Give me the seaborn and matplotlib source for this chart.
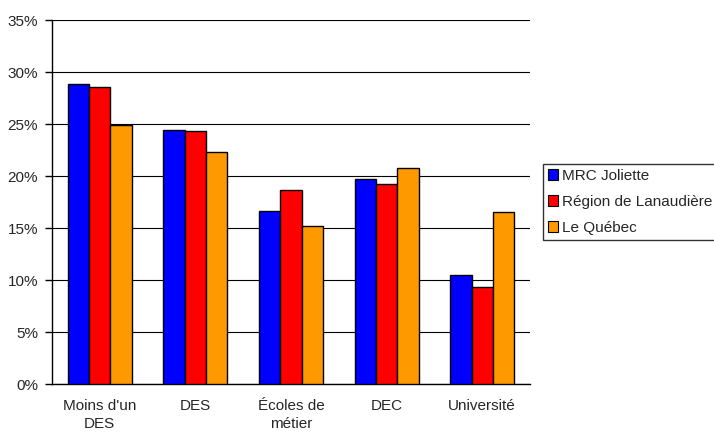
import matplotlib
matplotlib.use("Agg")
import matplotlib.pyplot as plt
import seaborn as sns
import pandas as pd
from matplotlib.ticker import FixedLocator, PercentFormatter

categories = ["Moins d'un\nDES", "DES", "Écoles de\nmétier", "DEC", "Université"]
series = ["MRC Joliette", "Région de Lanaudière", "Le Québec"]
mrc_joliette = [28.8, 24.4, 16.6, 19.7, 10.5]
region_lanaudiere = [28.6, 24.3, 18.7, 19.2, 9.3]
le_quebec = [24.9, 22.3, 15.2, 20.8, 16.5]
colors = ["#0000FF", "#FF0000", "#FF9900"]

rows = []
for s, vals in zip(series, [mrc_joliette, region_lanaudiere, le_quebec]):
    for c, v in zip(categories, vals):
        rows.append({"cat": c, "series": s, "val": v})
df = pd.DataFrame(rows)

sns.set_style("white")
plt.rcParams['font.family'] = ['Liberation Sans', 'DejaVu Sans']

fig = plt.figure(figsize=(7.14, 4.32), dpi=100)
ax = fig.add_axes([52/714, 48/432, 478/714, 364/432])

sns.barplot(data=df, x="cat", y="val", hue="series", palette=colors, saturation=1,
            width=0.67, edgecolor="black", linewidth=1.0, ax=ax, zorder=3)

ax.set_ylim(0, 35)
ax.set_xlim(-0.5, len(categories) - 0.5)
ax.set_yticks(range(0, 36, 5))
ax.yaxis.set_major_formatter(PercentFormatter(decimals=0))
ax.yaxis.grid(True, color="black", linewidth=0.8, zorder=0)
ax.set_axisbelow(True)
ax.set_xlabel("")
ax.set_ylabel("")

for side in ["top", "right"]:
    ax.spines[side].set_visible(False)
for side in ["left", "bottom"]:
    ax.spines[side].set_color("black")
    ax.spines[side].set_linewidth(1.0)

ax.tick_params(axis="x", which="major", length=0, labelsize=11, pad=11)
ax.xaxis.set_minor_locator(FixedLocator([i - 0.5 for i in range(len(categories) + 1)]))
ax.tick_params(axis="x", which="minor", length=5, width=1, color="black", direction="out")
ax.tick_params(axis="y", which="major", length=5, width=1, color="black", direction="out",
               labelsize=11, left=True, pad=5)
for lbl in ax.get_xticklabels():
    lbl.set_linespacing(1.3)

leg = ax.legend(loc="upper left", bbox_to_anchor=(543/714, 1 - 164/432),
                bbox_transform=fig.transFigure, frameon=True, fontsize=11,
                handlelength=0.7, handleheight=0.7, handletextpad=0.25,
                borderpad=0.3, labelspacing=0.8, fancybox=False, borderaxespad=0)
leg.get_frame().set_edgecolor("black")
leg.get_frame().set_linewidth(1.0)
for h in leg.legend_handles:
    h.set_edgecolor("black")
    h.set_linewidth(0.8)

fig.savefig("out.png", dpi=100)
